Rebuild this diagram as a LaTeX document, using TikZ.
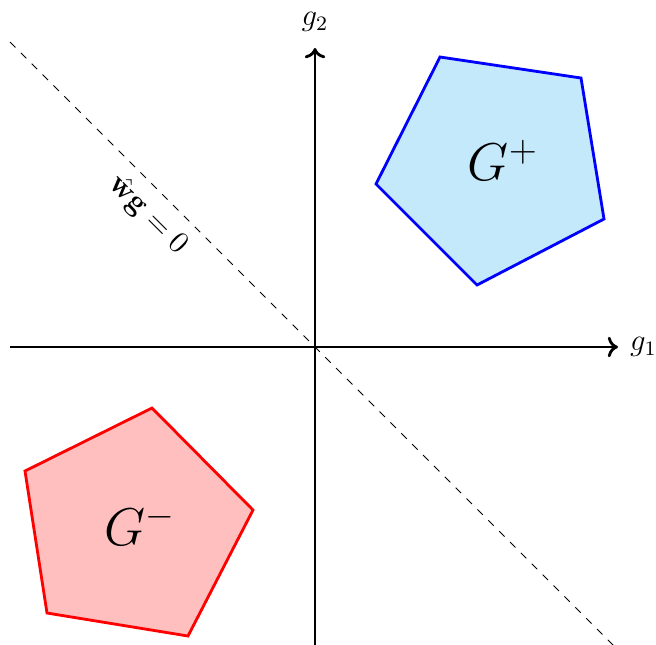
\documentclass[tikz,border=0pt]{standalone}
\usetikzlibrary{arrows.meta}
\begin{document}
\begin{tikzpicture}[x=0.01372cm,y=-0.01372cm,
  axis/.style={line width=1.1pt,-{To[length=4pt,width=8pt]}},
  sep/.style={dashed,line width=0.4pt},
  poly/.style={line width=1.1pt,line join=miter},
  axlab/.style={font=\large,inner sep=1pt}]
\useasboundingbox (0,0) rectangle (656,644);
\coordinate (O) at (315,347);
\coordinate (xl) at (10,347);
\coordinate (xr) at (618,347);
\coordinate (yb) at (315,650);
\coordinate (yt) at (315,48);
\coordinate (dtop) at (10,42);
\coordinate (dbot) at (618,650);
\draw[sep] (dtop) -- (dbot);
\draw[poly,draw=blue,fill={rgb,255:red,195;green,233;blue,250}]
  (440,57) -- (581,78) -- (604,219) -- (477,285) -- (376,184) -- cycle;
\draw[poly,draw=red,fill=red!25]
  (152,408) -- (253,510) -- (188,636) -- (47,613) -- (25,471) -- cycle;
\draw[axis] (xl) -- (xr);
\draw[axis] (yb) -- (yt);
\node[axlab,anchor=west] (g1) at (627,347) {$g_1$};
\node[axlab] (g2) at (315,22) {$g_2$};
\node (gp) at (503,160) {\huge $G^{+}$};
\node (gm) at (140,525) {\huge $G^{-}$};
\node[rotate=-45,font=\large] (lab) at (148,215) {$\hat{\mathbf{w}}\mathbf{g}=0$};
\end{tikzpicture}
\end{document}
